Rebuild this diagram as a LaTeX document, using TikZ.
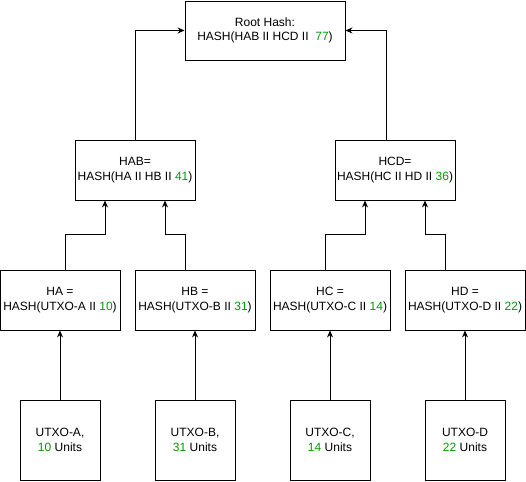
\documentclass[tikz,border=0pt]{standalone}
\usepackage{fontspec}
\setmainfont{Liberation Sans}
\usetikzlibrary{arrows.meta}
\definecolor{numgreen}{RGB}{0,153,0}
\newcommand{\num}[1]{\textcolor{numgreen}{#1}}
\tikzset{
  hashbox/.style={draw, rectangle, line width=0.9pt, minimum width=120pt, minimum height=60pt,
    align=center, inner sep=0pt, font=\fontsize{12}{14.5}\selectfont},
  utxobox/.style={hashbox, minimum width=80pt, minimum height=80pt},
  link/.style={draw, line width=0.9pt, -{Stealth[length=7pt,width=6pt]}}
}
\begin{document}
\begin{tikzpicture}[x=1pt,y=-1pt]
\useasboundingbox (0,0) rectangle (526,481);
% root
\node[hashbox, minimum width=160pt, minimum height=59pt] (root) at (265,30.5) {Root Hash:\\HASH(HAB II HCD II \ \num{77})};
% level 1
\node[hashbox] (hab) at (135,170) {HAB=\\HASH(HA II HB II \num{41})};
\node[hashbox] (hcd) at (395,170) {HCD=\\HASH(HC II HD II \num{36})};
% level 2
\node[hashbox] (ha) at (60,300) {HA =\\HASH(UTXO-A II \num{10})};
\node[hashbox] (hb) at (195,300) {HB =\\HASH(UTXO-B II \num{31})};
\node[hashbox] (hc) at (330,300) {HC =\\HASH(UTXO-C II \num{14})};
\node[hashbox] (hd) at (465,300) {HD =\\HASH(UTXO-D II \num{22})};
% leaves
\node[utxobox] (ua) at (60,440) {UTXO-A,\\ \num{10} Units};
\node[utxobox] (ub) at (195,440) {UTXO-B,\\\num{31} Units};
\node[utxobox] (uc) at (330,440) {UTXO-C,\\\num{14} Units};
\node[utxobox] (ud) at (465,440) {UTXO-D\\\num{22} Units};
% edges
\path[link] (hab.north) |- (root.west);
\path[link] ([xshift=-9pt]hcd.north) |- (root.east);
\path[link] ([xshift=5pt]ha.north) -- ++(0,-35) -| ([xshift=-30pt]hab.south);
\path[link] ([xshift=-10pt]hb.north) -- ++(0,-35) -| ([xshift=30pt]hab.south);
\path[link] ([xshift=-5pt]hc.north) -- ++(0,-35) -| ([xshift=-30pt]hcd.south);
\path[link] ([xshift=-20pt]hd.north) -- ++(0,-35) -| ([xshift=30pt]hcd.south);
\path[link] (ua) -- (ha);
\path[link] (ub) -- (hb);
\path[link] (uc) -- (hc);
\path[link] (ud) -- (hd);
\end{tikzpicture}
\end{document}
